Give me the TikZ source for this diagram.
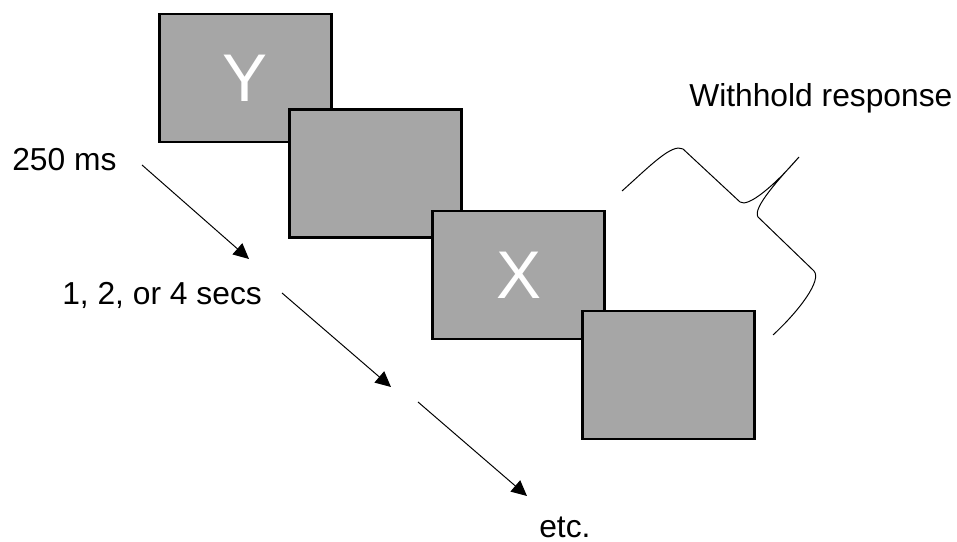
\documentclass[tikz,border=0pt]{standalone}
\usepackage{fontspec}
\setmainfont{Liberation Sans}
\usetikzlibrary{arrows.meta}

\definecolor{screengray}{RGB}{166,166,166}

\begin{document}
\begin{tikzpicture}[
    screen/.style={draw=black, line width=1.8pt, fill=screengray,
        minimum width=4.31cm, minimum height=3.19cm, inner sep=0pt,
        text=white, font=\fontsize{48}{56}\selectfont},
    label/.style={anchor=base west, inner sep=0pt, font=\fontsize{22.6}{27}\selectfont},
    timearrow/.style={-{Triangle[length=11pt, width=10.5pt]}, line width=0.7pt}
]
    \useasboundingbox (0,0) rectangle (23.925,13.55);

    % 刺激屏幕
    \node[screen] (scr1) at (6.1375,11.6) {Y};
    \node[screen] (scr2) at (9.3875,9.2125) {};
    \node[screen] (scr3) at (12.9625,6.675) {X};
    \node[screen] (scr4) at (16.7125,4.175) {};

    % 文字标注
    \node[label] (t250) at (0.3,9.275) {250 ms};
    \node[label] (tisi) at (1.55,5.925) {1, 2, or 4 secs};
    \node[label] (tetc) at (13.475,0.12) {etc.};
    \node[label] (twith) at (17.225,10.875) {Withhold response};

    % 时间箭头端点
    \coordinate (a1s) at (3.55,9.425);
    \coordinate (a1e) at (6.225,7.075);
    \coordinate (a2s) at (7.05,6.225);
    \coordinate (a2e) at (9.775,3.875);
    \coordinate (a3s) at (10.45,3.5);
    \coordinate (a3e) at (13.175,1.15);

    \draw[timearrow] (a1s) -- (a1e);
    \draw[timearrow] (a2s) -- (a2e);
    \draw[timearrow] (a3s) -- (a3e);

    % 斜向大括号
    \draw[line width=0.7pt] (15.55,8.775)
        .. controls (16.25,9.4) and (16.8,9.975) .. (17.075,9.825)
        -- (18.5,8.5)
        .. controls (18.7,8.35) and (19.375,8.925) .. (19.975,9.625)
        .. controls (19.5,9.1) and (18.8,8.35) .. (18.95,8.125)
        -- (20.35,6.775)
        .. controls (20.55,6.55) and (20.0,5.8) .. (19.325,5.175);
\end{tikzpicture}
\end{document}
